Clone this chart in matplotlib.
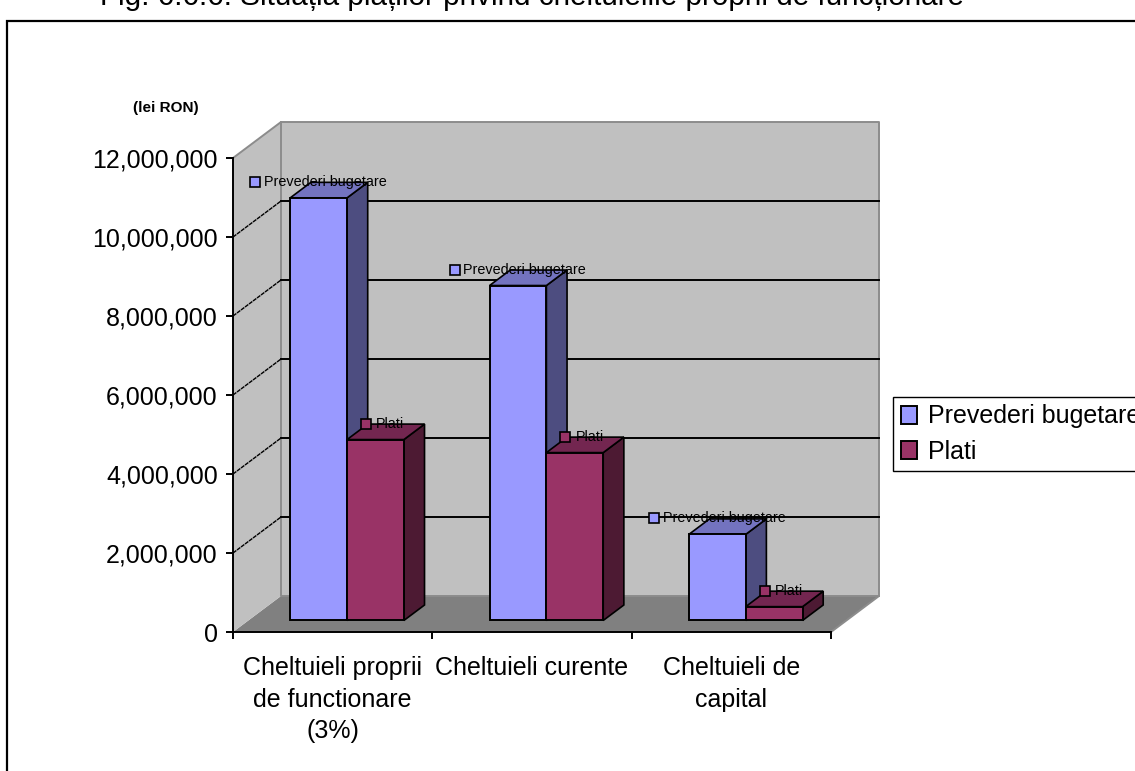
import matplotlib
matplotlib.use("Agg")
import matplotlib.pyplot as plt
from matplotlib.patches import Polygon, Rectangle
from matplotlib.ticker import FuncFormatter

categories = ["Cheltuieli proprii\nde functionare\n(3%)", "Cheltuieli curente", "Cheltuieli de\ncapital"]
prevederi = [10700000, 8480000, 2180000]
plati = [4580000, 4250000, 350000]
yticks = [0, 2000000, 4000000, 6000000, 8000000, 10000000, 12000000]

W, H = 1135, 771
BLUE, BLUE_SIDE, BLUE_TOP = "#9999FF", "#4D4D80", "#7373BF"
PLUM, PLUM_SIDE, PLUM_TOP = "#993366", "#4D1A33", "#732650"
WALL, FLOOR, EDGE = "#C0C0C0", "#808080", "#8C8C8C"

plt.rcParams["font.family"] = ["Liberation Sans", "DejaVu Sans"]
fig = plt.figure(figsize=(W / 100, H / 100), dpi=100)
ax = fig.add_axes([233 / W, 1 - 632 / H, 598 / W, 474 / H])
ax.set_xlim(0, 3)
ax.set_ylim(0, 12000000)
ax.patch.set_visible(False)

# depth of the fake 3d box, in data units
dx = 48 / 199.3
dy = 36 / 79 * 2000000
bar_w = 0.285
fx, fy = 0.30 * dx, 0.32 * dy      # bars stand a bit behind the front edge
bx, by = 0.43 * dx, 0.43 * dy      # bar depth


def poly(pts, fc, ec="none", lw=0, z=1):
    ax.add_patch(Polygon(pts, closed=True, facecolor=fc, edgecolor=ec, linewidth=lw,
                         zorder=z, clip_on=False))


# walls and floor
poly([(0, 0), (dx, dy), (3 + dx, dy), (3, 0)], FLOOR)
poly([(0, 0), (dx, dy), (dx, 12000000 + dy), (0, 12000000)], WALL)
poly([(dx, dy), (3 + dx, dy), (3 + dx, 12000000 + dy), (dx, 12000000 + dy)], WALL)
ax.plot([0, dx, 3 + dx, 3 + dx, 3], [12000000, 12000000 + dy, 12000000 + dy, dy, 0],
        color=EDGE, lw=1.4, zorder=1.5, clip_on=False)
ax.plot([dx, dx, 3 + dx], [12000000 + dy, dy, dy], color=EDGE, lw=1.4, zorder=1.5, clip_on=False)

# gridlines on the two walls
for t in yticks[1:-1]:
    ax.plot([dx, 3 + dx], [t + dy, t + dy], color="black", lw=1.4, zorder=2, clip_on=False)
    ax.plot([0, dx], [t, t + dy], color="black", lw=1.0, ls=(0, (3, 0.6)), zorder=2, clip_on=False)


def bar3d(x, v, front, side, top, z):
    left, right = x + fx, x + fx + bar_w
    base, up = fy, fy + v
    poly([(right, base), (right + bx, base + by), (right + bx, up + by), (right, up)],
         side, "black", 1.2, z)
    poly([(left, up), (right, up), (right + bx, up + by), (left + bx, up + by)],
         top, "black", 1.2, z)
    return ax.bar(x + fx, v, bar_w, bottom=base, align="edge", color=front, edgecolor="black",
                  linewidth=1.4, zorder=z + 0.1)


h1 = h2 = None
for i in range(3):
    h1 = bar3d(i + 0.5 - bar_w, prevederi[i], BLUE, BLUE_SIDE, BLUE_TOP, 3 + i)
    h2 = bar3d(i + 0.5, plati[i], PLUM, PLUM_SIDE, PLUM_TOP, 3.5 + i)

# data labels (series name next to a small key)
for i in range(3):
    xb = i + 0.5 - bar_w + fx
    yb = fy + prevederi[i]
    ax.annotate("Prevederi bugetare", (xb, yb), xytext=(-19, 11.5), textcoords="offset points",
                fontsize=10.4, va="center", ha="left", zorder=10, annotation_clip=False)
    ax.plot([xb - 35 / 199.3], [yb + 16 / 79 * 2000000], marker="s", ms=6.5, mfc=BLUE, mec="black",
            mew=1.2, zorder=10, clip_on=False)
    xp = i + 0.5 + fx
    yp = fy + plati[i]
    ax.annotate("Plati", (xp, yp), xytext=(21, 11.5), textcoords="offset points",
                fontsize=10.4, va="center", ha="left", zorder=10, annotation_clip=False)
    ax.plot([xp + 19 / 199.3], [yp + 16 / 79 * 2000000], marker="s", ms=6.5, mfc=PLUM, mec="black",
            mew=1.2, zorder=10, clip_on=False)

# axes
for s in ("top", "right"):
    ax.spines[s].set_visible(False)
for s in ("left", "bottom"):
    ax.spines[s].set_linewidth(1.4)
    ax.spines[s].set_zorder(2.5)
ax.set_yticks(yticks)
ax.yaxis.set_major_formatter(FuncFormatter(lambda v, p: f"{int(v):,}"))
ax.tick_params(axis="y", length=5, width=1.4, pad=6, labelsize=18)
ax.set_xticks([0, 1, 2, 3])
ax.set_xticklabels([])
ax.tick_params(axis="x", which="major", length=5, width=1.4)
ax.set_xticks([0.5, 1.5, 2.5], minor=True)
ax.set_xticklabels(categories, minor=True, fontsize=18, linespacing=1.38, ha="center", va="top")
ax.tick_params(axis="x", which="minor", length=0, pad=17.5)

fig.legend([h1, h2], ["Prevederi bugetare", "Plati"], loc="upper left",
           bbox_to_anchor=(893 / W, 1 - 397 / H), bbox_transform=fig.transFigure,
           fontsize=18, fancybox=False, framealpha=1, edgecolor="black", borderpad=0.3,
           labelspacing=0.45, handlelength=0.65, handleheight=0.75, handletextpad=0.45,
           borderaxespad=0)

fig.text(133 / W, 1 - 108 / H, "(lei RON)", fontsize=11, fontweight="bold", va="center", ha="left")
fig.text(100 / W, 1 - 5 / H, "Fig. 6.6.6. Situația plăților privind cheltuielile proprii de funcționare",
         fontsize=21.3, va="baseline", ha="left")

# outer frame of the pasted chart, runs off the right and bottom edges
fig.add_artist(Rectangle((7 / W, -0.05), 1.1, 1 - 21 / H + 0.05, transform=fig.transFigure,
                         fill=False, edgecolor="black", linewidth=1.6))

fig.savefig("out.png", dpi=100)
